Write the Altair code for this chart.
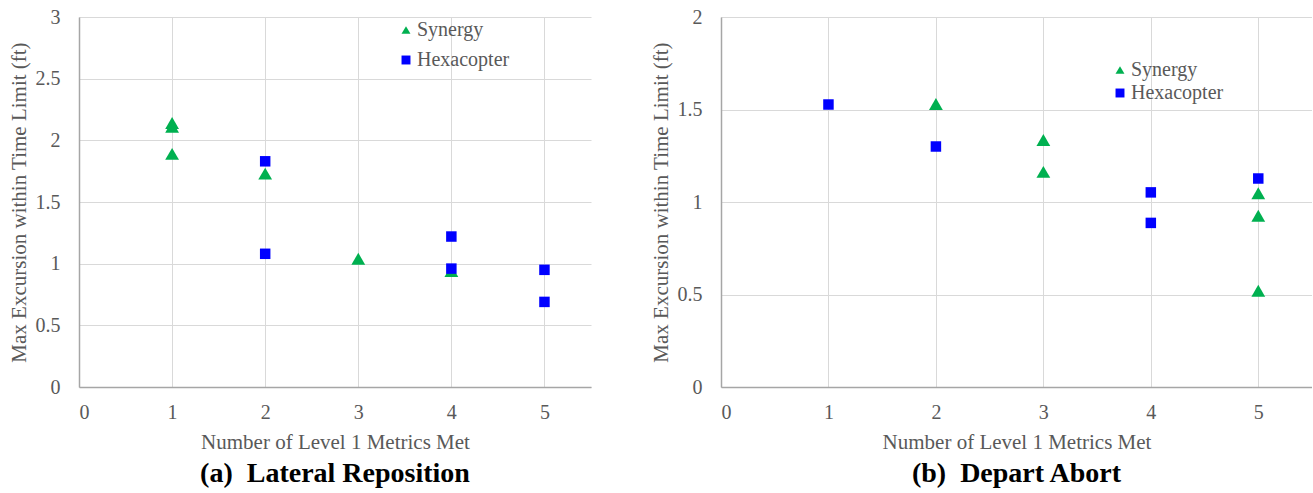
import altair as alt
import pandas as pd

# ---- data ----
series_names = ["Synergy", "Hexacopter"]
series_colors = ["#00B050", "#0000FF"]
series_shapes = ["triangle-up", "square"]

a_syn_x = [1, 1, 1, 2, 3, 4]
a_syn_y = [2.14, 2.11, 1.89, 1.73, 1.04, 0.94]
a_hex_x = [2, 2, 4, 4, 5, 5]
a_hex_y = [1.83, 1.08, 1.22, 0.96, 0.95, 0.69]

b_syn_x = [2, 3, 3, 5, 5, 5]
b_syn_y = [1.53, 1.335, 1.163, 1.047, 0.926, 0.52]
b_hex_x = [1, 2, 4, 4, 5]
b_hex_y = [1.527, 1.30, 1.052, 0.887, 1.127]

x_ticks = [0, 1, 2, 3, 4, 5]
a_y_ticks = [0, 0.5, 1, 1.5, 2, 2.5, 3]
b_y_ticks = [0, 0.5, 1, 1.5, 2]

x_title = "Number of Level 1 Metrics Met"
y_title = "Max Excursion within Time Limit (ft)"
a_title = "(a)\u00a0\u00a0Lateral Reposition"
b_title = "(b)\u00a0\u00a0Depart Abort"

FONT = "Liberation Serif"
GRAY = "#595959"


def frame(sx, sy, hx, hy):
    rows = [{"x": a, "y": b, "series": series_names[0]} for a, b in zip(sx, sy)]
    rows += [{"x": a, "y": b, "series": series_names[1]} for a, b in zip(hx, hy)]
    return pd.DataFrame(rows)


def panel(df, y_max, y_ticks, width, title, lx, ly, row_pad, sizes, leg_size):
    legend = alt.Legend(
        title=None,
        orient="none",
        legendX=lx,
        legendY=ly,
        padding=0,
        labelFont=FONT,
        labelFontSize=20,
        labelColor=GRAY,
        symbolSize=leg_size,
        symbolStrokeWidth=0,
        labelOffset=1,
        rowPadding=row_pad,
    )
    return (
        alt.Chart(df)
        .mark_point(filled=True, opacity=1)
        .encode(
            x=alt.X(
                "x:Q",
                scale=alt.Scale(domain=[0, 5.5], nice=False, zero=True),
                axis=alt.Axis(
                    values=x_ticks,
                    title=x_title,
                    ticks=False,
                    labelPadding=15,
                    titlePadding=9,
                    format="d",
                ),
            ),
            y=alt.Y(
                "y:Q",
                scale=alt.Scale(domain=[0, y_max], nice=False),
                axis=alt.Axis(
                    values=y_ticks,
                    title=y_title,
                    ticks=False,
                    labelPadding=19,
                    titlePadding=6,
                    format="~g",
                ),
            ),
            color=alt.Color(
                "series:N",
                scale=alt.Scale(domain=series_names, range=series_colors),
                legend=legend,
            ),
            shape=alt.Shape(
                "series:N",
                scale=alt.Scale(domain=series_names, range=series_shapes),
                legend=legend,
            ),
            size=alt.Size(
                "series:N",
                scale=alt.Scale(domain=series_names, range=sizes),
                legend=None,
            ),
        )
        .properties(
            width=width,
            height=370,
            title=alt.TitleParams(
                text=title,
                orient="bottom",
                anchor="middle",
                frame="group",
                font=FONT,
                fontSize=28,
                fontWeight="bold",
                color="black",
                offset=8,
            ),
        )
    )


left = panel(frame(a_syn_x, a_syn_y, a_hex_x, a_hex_y), 3, a_y_ticks, 512,
             a_title, 317, 3, 10, [190, 110], 80)
right = panel(frame(b_syn_x, b_syn_y, b_hex_x, b_hex_y), 2, b_y_ticks, 591,
              b_title, 389, 43, 3, [125, 100], 80)

chart = (
    alt.hconcat(left, right, spacing=59)
    .resolve_legend(color="independent", shape="independent")
    .properties(padding={"left": 8, "top": 7, "right": 0, "bottom": 0})
    .configure_view(stroke=None)
    .configure_axis(
        labelFont=FONT,
        labelFontSize=20,
        labelColor=GRAY,
        titleFont=FONT,
        titleFontSize=21,
        titleFontWeight="normal",
        titleColor=GRAY,
        gridColor="#d9d9d9",
        gridWidth=1,
        domainColor="#a6a6a6",
        domainWidth=1.5,
    )
)

chart.save("out.html", embed_options={"renderer": "svg", "actions": False})
